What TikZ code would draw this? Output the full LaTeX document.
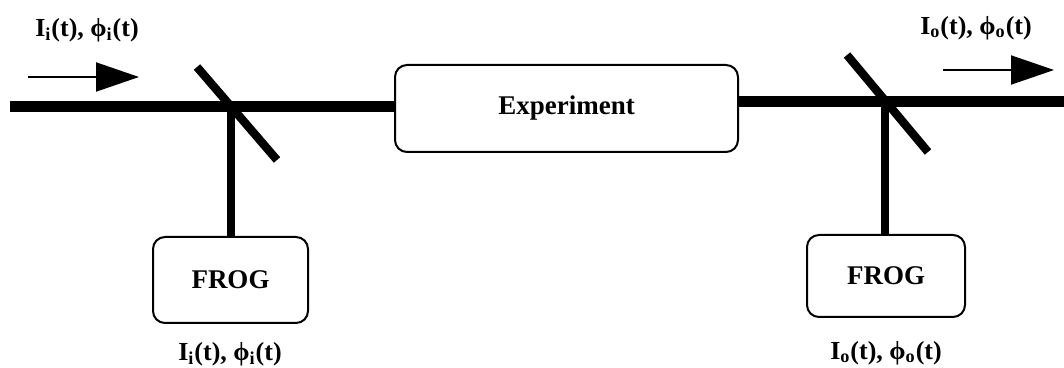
\documentclass[tikz,border=0pt]{standalone}
\usepackage{fontspec}
\setmainfont{Liberation Serif}
\usetikzlibrary{arrows.meta}
\newcommand{\siglbl}[1]{\textbf{I\textsubscript{#1}(t), \symbol{"03D5}\textsubscript{#1}(t)}}
\begin{document}
\begin{tikzpicture}[x=0.5pt,y=-0.5pt,
  box/.style={draw,line width=1pt,rounded corners=6pt,inner sep=0pt,font=\bfseries\fontsize{13.5}{16}\selectfont},
  beam/.style={line width=5.5pt},
  mirror/.style={line width=4.2pt},
  pick/.style={line width=4.2pt},
  flow/.style={line width=1pt,-{Triangle[length=21.5pt,width=14.5pt]}},
  lbl/.style={inner sep=0pt,font=\fontsize{13}{15}\selectfont}]
\useasboundingbox (0,0) rectangle (1064,368);
% boxes
\node[box,minimum width=171.5pt,minimum height=43.5pt] (exp) at (566.5,108.5) {Experiment};
\node[box,minimum width=77.5pt,minimum height=43pt] (frogi) at (230.5,280) {FROG};
\node[box,minimum width=79pt,minimum height=41pt] (frogo) at (886,276) {FROG};
% beam points
\coordinate (bs) at (10,106.5);
\coordinate (mi) at (231,106.5);
\coordinate (mo) at (885,102);
\coordinate (be) at (1064,102);
\draw[beam] (bs) -- (exp.west |- bs);
\draw[beam] (exp.east |- be) -- (be);
% mirrors
\coordinate (mi1) at (197,67);
\coordinate (mi2) at (277,160);
\coordinate (mo1) at (847,55);
\coordinate (mo2) at (928,152);
\draw[mirror] (mi1) -- (mi2);
\draw[mirror] (mo1) -- (mo2);
% pick-offs to FROG
\draw[pick] (mi) -- (mi |- frogi.north);
\draw[pick] (mo) -- (mo |- frogo.north);
% direction arrows
\coordinate (ai1) at (28,77);
\coordinate (ai2) at (139,77);
\coordinate (ao1) at (943,70);
\coordinate (ao2) at (1054,70);
\draw[flow] (ai1) -- (ai2);
\draw[flow] (ao1) -- (ao2);
% labels
\node[lbl] (ltl) at (87,30) {\siglbl{i}};
\node[lbl] (ltr) at (976,28) {\siglbl{o}};
\node[lbl] (lbl1) at (230,354) {\siglbl{i}};
\node[lbl] (lbr) at (886,353) {\siglbl{o}};
\end{tikzpicture}
\end{document}
